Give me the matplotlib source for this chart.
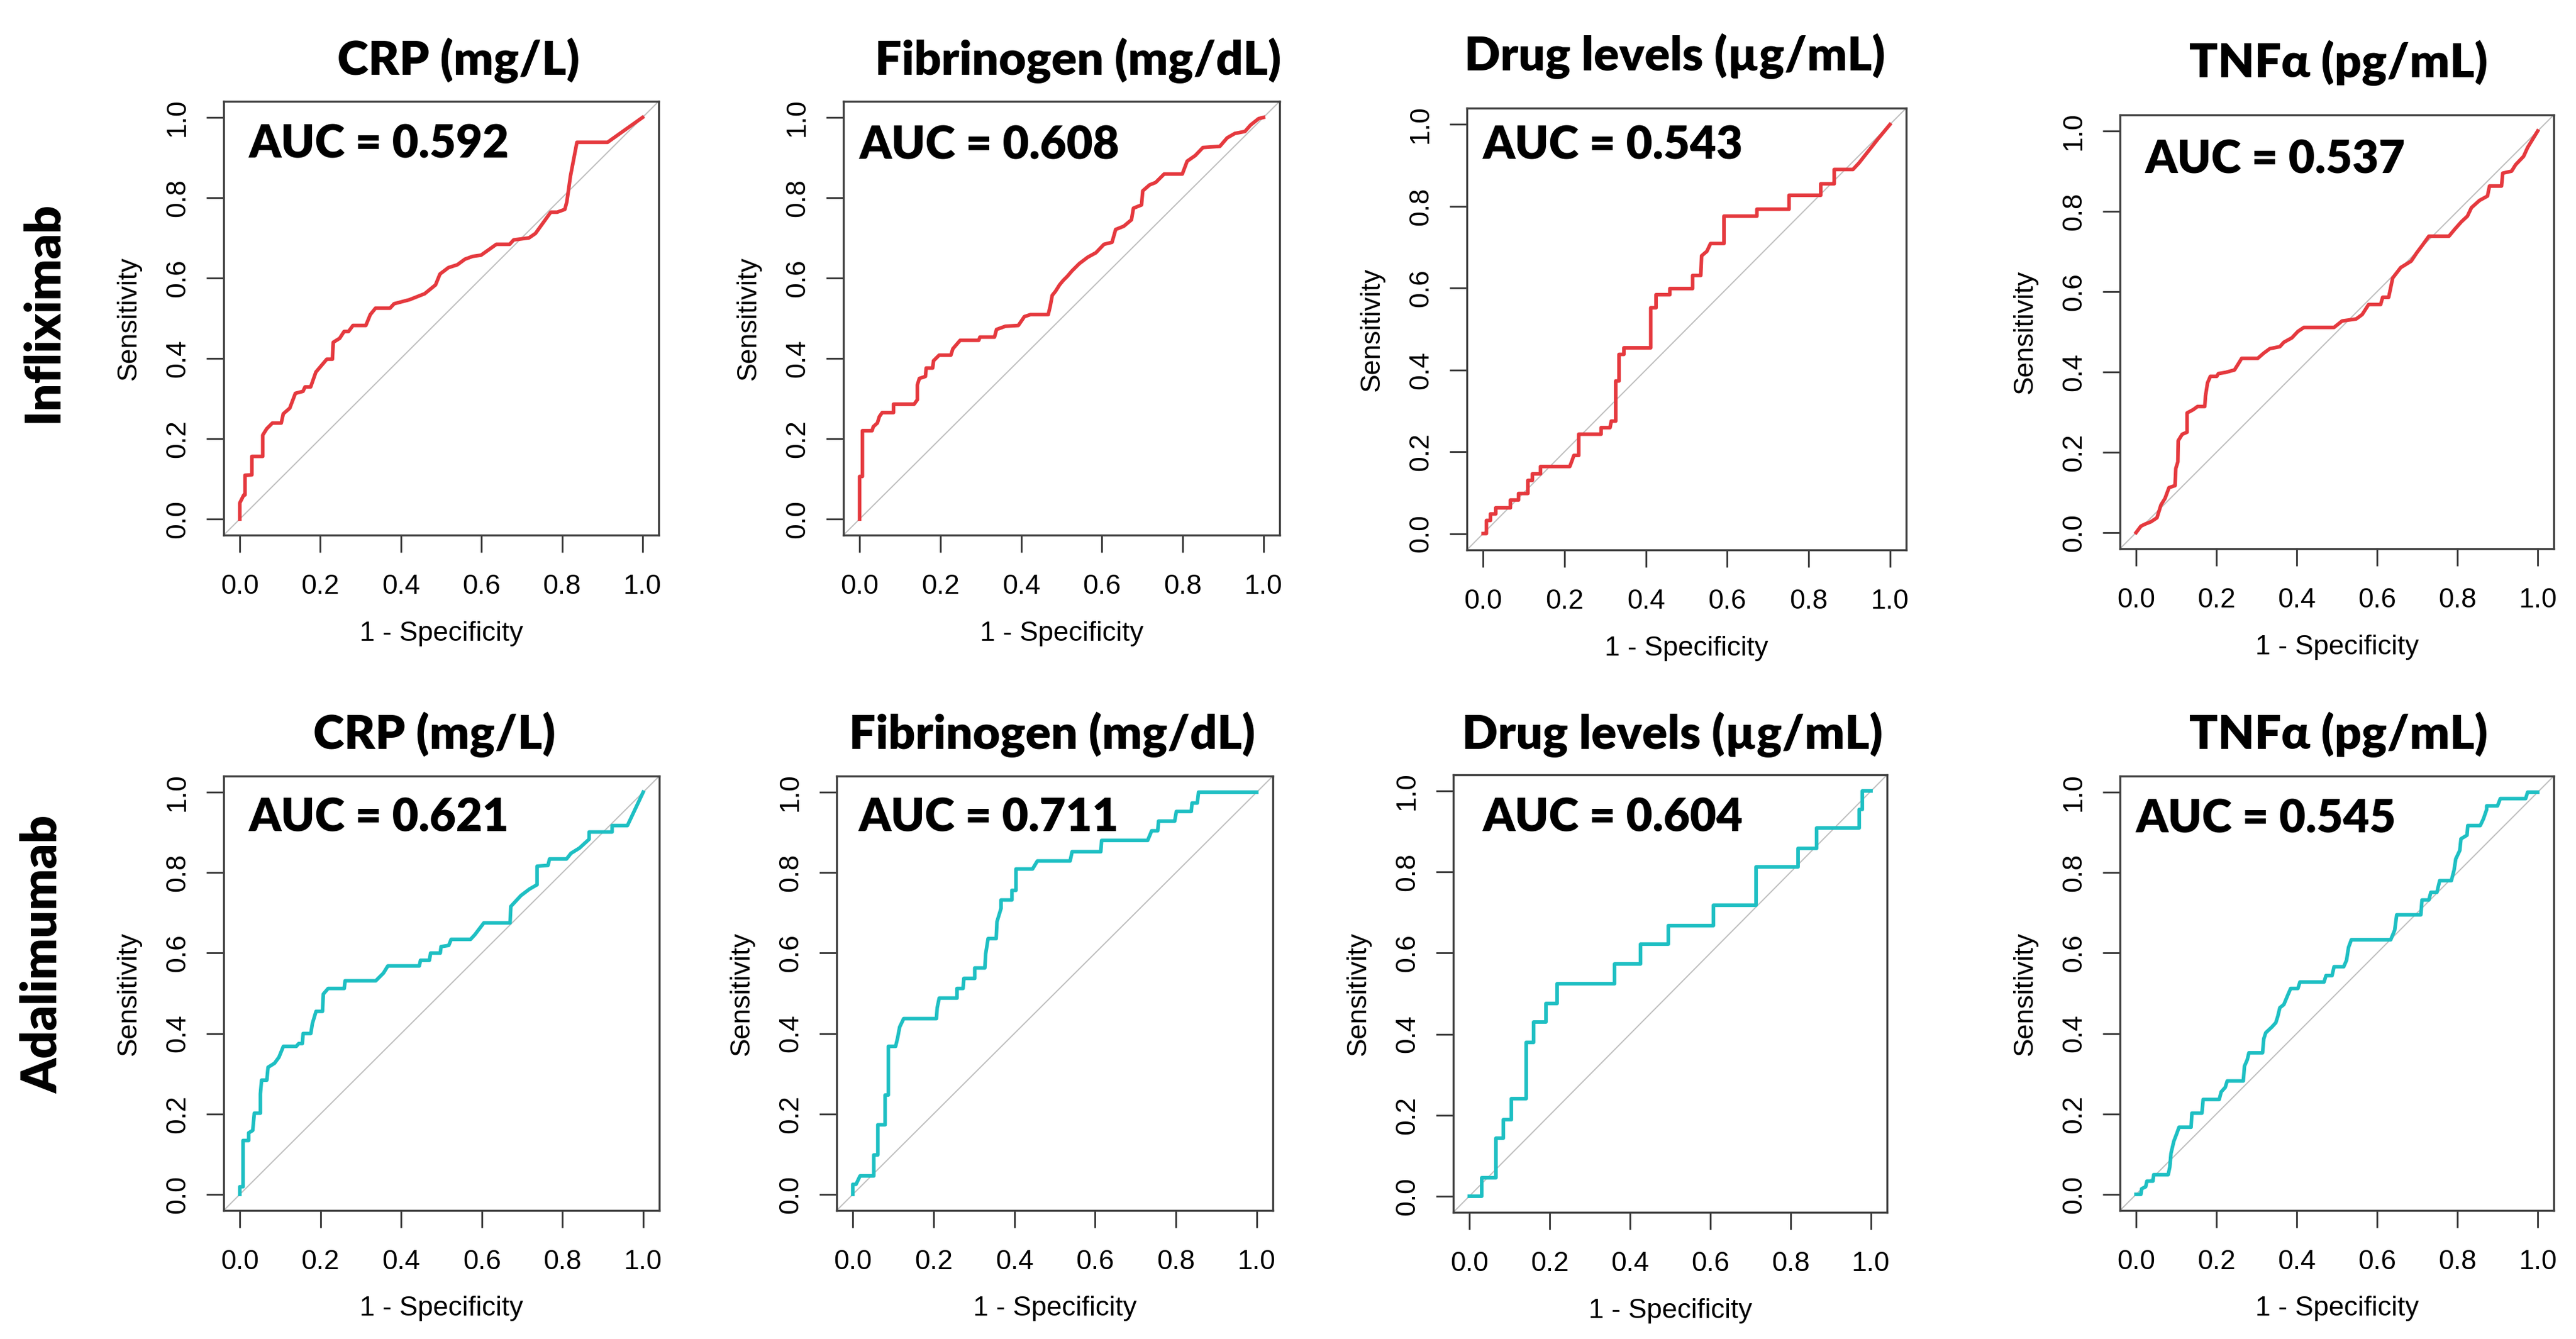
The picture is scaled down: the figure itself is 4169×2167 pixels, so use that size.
import matplotlib
matplotlib.use("Agg")
import matplotlib.pyplot as plt

# ---- data (x = 1 - specificity, y = sensitivity) ----
titles = ["CRP (mg/L)", "Fibrinogen (mg/dL)", "Drug levels (µg/mL)", "TNFα (pg/mL)"]
rows = ["Infliximab", "Adalimumab"]
auc_ifx = [0.592, 0.608, 0.543, 0.537]
auc_ada = [0.621, 0.711, 0.604, 0.545]

ifx_crp_x = [0, 0, 0.005, 0.01, 0.013, 0.013, 0.03, 0.03, 0.057, 0.057, 0.067, 0.081, 0.103, 0.108, 0.124, 0.138,
             0.157, 0.162, 0.176, 0.189, 0.216, 0.230, 0.232, 0.248, 0.259, 0.27, 0.281, 0.313, 0.324, 0.337, 0.373,
             0.383, 0.421, 0.459, 0.486, 0.497, 0.518, 0.540, 0.559, 0.578, 0.599, 0.637, 0.670, 0.680, 0.718, 0.734,
             0.772, 0.788, 0.807, 0.812, 0.821, 0.837, 0.913, 1.0]
ifx_crp_y = [0, 0.04, 0.05, 0.06, 0.06, 0.109, 0.11, 0.156, 0.156, 0.209, 0.225, 0.239, 0.239, 0.262, 0.276, 0.313,
             0.318, 0.329, 0.329, 0.366, 0.398, 0.398, 0.44, 0.45, 0.467, 0.467, 0.482, 0.482, 0.509, 0.525, 0.525,
             0.536, 0.546, 0.561, 0.583, 0.610, 0.626, 0.633, 0.647, 0.654, 0.657, 0.684, 0.684, 0.695, 0.700, 0.711,
             0.764, 0.764, 0.771, 0.79, 0.854, 0.938, 0.938, 1.0]

ifx_fib_x = [0, 0, 0.007, 0.007, 0.031, 0.034, 0.044, 0.049, 0.056, 0.084, 0.084, 0.135, 0.143, 0.143, 0.148, 0.163,
             0.165, 0.181, 0.183, 0.197, 0.226, 0.231, 0.249, 0.295, 0.298, 0.334, 0.339, 0.361, 0.393, 0.408, 0.423,
             0.467, 0.472, 0.477, 0.485, 0.495, 0.504, 0.514, 0.526, 0.544, 0.565, 0.585, 0.605, 0.625, 0.634, 0.654,
             0.673, 0.678, 0.698, 0.701, 0.718, 0.733, 0.754, 0.799, 0.811, 0.831, 0.850, 0.892, 0.910, 0.929, 0.954,
             0.968, 0.988, 1.0]
ifx_fib_y = [0, 0.106, 0.106, 0.220, 0.220, 0.230, 0.239, 0.255, 0.265, 0.265, 0.286, 0.286, 0.297, 0.334, 0.350,
             0.355, 0.376, 0.376, 0.394, 0.408, 0.408, 0.424, 0.445, 0.445, 0.453, 0.453, 0.472, 0.480, 0.482, 0.504,
             0.509, 0.509, 0.530, 0.557, 0.567, 0.583, 0.594, 0.604, 0.618, 0.636, 0.652, 0.663, 0.684, 0.689, 0.721,
             0.729, 0.745, 0.774, 0.782, 0.817, 0.832, 0.838, 0.859, 0.859, 0.891, 0.905, 0.925, 0.928, 0.949, 0.960,
             0.965, 0.981, 0.997, 1.0]

ifx_drug_x = [0, 0.008, 0.008, 0.018, 0.018, 0.031, 0.031, 0.067, 0.067, 0.087, 0.087, 0.110, 0.110, 0.121, 0.121,
              0.141, 0.141, 0.213, 0.218, 0.223, 0.235, 0.235, 0.290, 0.290, 0.312, 0.315, 0.326, 0.326, 0.334, 0.334,
              0.346, 0.346, 0.412, 0.412, 0.425, 0.425, 0.459, 0.459, 0.515, 0.515, 0.535, 0.537, 0.550, 0.559, 0.592,
              0.592, 0.673, 0.673, 0.752, 0.752, 0.830, 0.830, 0.863, 0.863, 0.909, 0.924, 0.970, 0.990, 1.0]
ifx_drug_y = [0, 0, 0.032, 0.032, 0.048, 0.048, 0.063, 0.063, 0.082, 0.082, 0.098, 0.098, 0.130, 0.130, 0.146, 0.146,
              0.164, 0.164, 0.177, 0.191, 0.191, 0.243, 0.243, 0.259, 0.259, 0.275, 0.275, 0.373, 0.373, 0.438, 0.438,
              0.454, 0.454, 0.552, 0.552, 0.584, 0.584, 0.599, 0.599, 0.631, 0.631, 0.679, 0.690, 0.709, 0.709, 0.776,
              0.776, 0.793, 0.793, 0.827, 0.827, 0.855, 0.855, 0.890, 0.890, 0.906, 0.964, 0.988, 1.0]

ifx_tnf_x = [0, 0.012, 0.022, 0.037, 0.052, 0.062, 0.072, 0.082, 0.097, 0.099, 0.104, 0.105, 0.115, 0.127, 0.127,
             0.142, 0.153, 0.171, 0.173, 0.178, 0.185, 0.201, 0.205, 0.223, 0.245, 0.255, 0.263, 0.303, 0.318, 0.333,
             0.358, 0.368, 0.388, 0.403, 0.418, 0.493, 0.513, 0.548, 0.563, 0.579, 0.609, 0.614, 0.629, 0.639, 0.659,
             0.685, 0.699, 0.714, 0.729, 0.779, 0.794, 0.810, 0.825, 0.835, 0.855, 0.875, 0.880, 0.910, 0.913, 0.935,
             0.945, 0.965, 0.975, 1.0]
ifx_tnf_y = [0, 0.016, 0.021, 0.027, 0.037, 0.069, 0.085, 0.112, 0.117, 0.160, 0.176, 0.229, 0.245, 0.250, 0.298,
             0.306, 0.314, 0.314, 0.341, 0.373, 0.389, 0.389, 0.396, 0.399, 0.405, 0.421, 0.434, 0.434, 0.447, 0.458,
             0.463, 0.474, 0.485, 0.501, 0.511, 0.511, 0.527, 0.532, 0.543, 0.568, 0.568, 0.586, 0.586, 0.634, 0.660,
             0.676, 0.697, 0.717, 0.738, 0.738, 0.756, 0.774, 0.788, 0.809, 0.827, 0.838, 0.863, 0.863, 0.895, 0.900,
             0.916, 0.937, 0.959, 1.0]

ada_crp_x = [0, 0, 0.008, 0.008, 0.022, 0.022, 0.032, 0.036, 0.051, 0.051, 0.054, 0.067, 0.070, 0.086, 0.097, 0.108,
             0.140, 0.146, 0.155, 0.157, 0.176, 0.180, 0.189, 0.205, 0.207, 0.219, 0.259, 0.261, 0.337, 0.356, 0.367,
             0.445, 0.448, 0.470, 0.473, 0.497, 0.499, 0.518, 0.524, 0.572, 0.583, 0.605, 0.670, 0.672, 0.697, 0.718,
             0.737, 0.737, 0.764, 0.768, 0.810, 0.821, 0.842, 0.866, 0.866, 0.923, 0.923, 0.961, 1.0]
ada_crp_y = [0, 0.019, 0.019, 0.134, 0.134, 0.153, 0.159, 0.202, 0.202, 0.250, 0.284, 0.284, 0.316, 0.326, 0.341,
             0.368, 0.368, 0.375, 0.375, 0.400, 0.400, 0.425, 0.455, 0.455, 0.498, 0.512, 0.512, 0.531, 0.531, 0.550,
             0.568, 0.568, 0.582, 0.582, 0.600, 0.600, 0.616, 0.619, 0.634, 0.634, 0.646, 0.675, 0.675, 0.716, 0.743,
             0.759, 0.770, 0.816, 0.818, 0.834, 0.834, 0.848, 0.861, 0.883, 0.901, 0.901, 0.917, 0.917, 1.0]

ada_fib_x = [0, 0, 0.008, 0.018, 0.052, 0.052, 0.062, 0.062, 0.080, 0.080, 0.088, 0.088, 0.106, 0.111, 0.116, 0.126,
             0.207, 0.209, 0.214, 0.258, 0.258, 0.273, 0.275, 0.302, 0.302, 0.327, 0.329, 0.335, 0.355, 0.357, 0.367,
             0.367, 0.394, 0.394, 0.404, 0.404, 0.445, 0.457, 0.538, 0.543, 0.614, 0.616, 0.730, 0.740, 0.755, 0.757,
             0.797, 0.801, 0.838, 0.840, 0.853, 0.856, 1.0]
ada_fib_y = [0, 0.025, 0.025, 0.046, 0.046, 0.098, 0.098, 0.173, 0.173, 0.247, 0.247, 0.368, 0.368, 0.389, 0.416,
             0.437, 0.437, 0.464, 0.488, 0.488, 0.512, 0.512, 0.537, 0.537, 0.563, 0.563, 0.598, 0.636, 0.636, 0.678,
             0.711, 0.732, 0.732, 0.756, 0.756, 0.809, 0.809, 0.829, 0.829, 0.852, 0.852, 0.880, 0.880, 0.904, 0.904,
             0.928, 0.928, 0.952, 0.952, 0.973, 0.973, 1.0, 1.0]

ada_drug_x = [0, 0.030, 0.030, 0.066, 0.066, 0.084, 0.084, 0.105, 0.105, 0.141, 0.141, 0.160, 0.160, 0.190, 0.190,
              0.219, 0.219, 0.362, 0.362, 0.426, 0.426, 0.496, 0.496, 0.608, 0.608, 0.714, 0.714, 0.818, 0.818, 0.865,
              0.865, 0.971, 0.971, 0.979, 0.979, 1.0]
ada_drug_y = [0, 0, 0.046, 0.046, 0.143, 0.143, 0.189, 0.189, 0.240, 0.240, 0.380, 0.380, 0.430, 0.430, 0.476, 0.476,
              0.525, 0.525, 0.573, 0.573, 0.622, 0.622, 0.668, 0.668, 0.718, 0.718, 0.813, 0.813, 0.858, 0.858, 0.909,
              0.909, 0.955, 0.955, 1.0, 1.0]

ada_tnf_x = [0, 0.012, 0.014, 0.024, 0.027, 0.042, 0.044, 0.080, 0.084, 0.087, 0.094, 0.102, 0.107, 0.137, 0.139,
             0.164, 0.167, 0.207, 0.212, 0.222, 0.227, 0.267, 0.270, 0.277, 0.281, 0.315, 0.318, 0.323, 0.338, 0.348,
             0.353, 0.358, 0.368, 0.378, 0.385, 0.403, 0.408, 0.468, 0.473, 0.488, 0.493, 0.517, 0.524, 0.529, 0.536,
             0.634, 0.644, 0.649, 0.709, 0.712, 0.729, 0.734, 0.749, 0.756, 0.785, 0.792, 0.796, 0.806, 0.809, 0.824,
             0.826, 0.857, 0.865, 0.873, 0.873, 0.900, 0.907, 0.970, 0.975, 1.0]
ada_tnf_y = [0, 0, 0.014, 0.019, 0.033, 0.033, 0.049, 0.049, 0.068, 0.102, 0.132, 0.153, 0.167, 0.167, 0.202, 0.202,
             0.236, 0.236, 0.255, 0.266, 0.282, 0.282, 0.319, 0.335, 0.352, 0.352, 0.387, 0.402, 0.416, 0.427, 0.443,
             0.464, 0.472, 0.496, 0.512, 0.512, 0.528, 0.528, 0.544, 0.544, 0.566, 0.566, 0.582, 0.614, 0.633, 0.633,
             0.657, 0.695, 0.695, 0.732, 0.732, 0.751, 0.751, 0.780, 0.780, 0.807, 0.834, 0.855, 0.884, 0.893, 0.917,
             0.917, 0.934, 0.957, 0.966, 0.966, 0.984, 0.984, 1.0, 1.0]

curves = [(ifx_crp_x, ifx_crp_y), (ifx_fib_x, ifx_fib_y), (ifx_drug_x, ifx_drug_y), (ifx_tnf_x, ifx_tnf_y),
          (ada_crp_x, ada_crp_y), (ada_fib_x, ada_fib_y), (ada_drug_x, ada_drug_y), (ada_tnf_x, ada_tnf_y)]
aucs = auc_ifx + auc_ada
colors = ["#e5393e"] * 4 + ["#1ebfc3"] * 4

# ---- layout (pixels of the 4169 x 2167 canvas) ----
W, H, DPI = 4169, 2167, 200
boxes = [(362, 164, 1066, 866), (1365, 164, 2071, 866), (2374, 175, 3085, 890), (3431, 186, 4133, 888),
         (362, 1256, 1067, 1959), (1354, 1256, 2060, 1959), (2352, 1254, 3054, 1962), (3431, 1256, 4133, 1959)]
title_pos = [(742, 121), (1745, 121), (2711, 114), (3785, 125),
             (703, 1212), (1703, 1212), (2706, 1212), (3785, 1212)]
auc_pos = [(0.023, 0.90), (0.0, 0.896), (0.0, 0.915), (0.023, 0.895),
           (0.023, 0.903), (0.015, 0.903), (0.034, 0.901), (0.0, 0.90)]
row_pos = [(69, 505), (69, 1545)]

plt.rcParams["font.family"] = ["Liberation Sans", "DejaVu Sans"]
bold_font = ["Lato", "DejaVu Sans"]

fig = plt.figure(figsize=(W / DPI, H / DPI), dpi=DPI)
ticks = [0.0, 0.2, 0.4, 0.6, 0.8, 1.0]
ticklabels = ["%.1f" % t for t in ticks]

for i in range(8):
    l, t, r, b = boxes[i]
    ax = fig.add_axes([l / W, 1 - b / H, (r - l) / W, (b - t) / H])
    ax.set_xlim(-0.04, 1.04)
    ax.set_ylim(-0.04, 1.04)
    ax.axline((0, 0), (1, 1), color="#bebebe", lw=0.7, zorder=1)
    cx, cy = curves[i]
    ax.plot(cx, cy, color=colors[i], lw=2.1, zorder=2)

    ax.set_xticks(ticks)
    ax.set_xticklabels(ticklabels)
    ax.set_yticks(ticks)
    ax.set_yticklabels(ticklabels, rotation=90, va="center", ha="right")
    ax.tick_params(axis="both", length=10, width=1, color="#333333", labelsize=16)
    ax.tick_params(axis="x", pad=12.6)
    ax.tick_params(axis="y", pad=9.4)
    for sp in ax.spines.values():
        sp.set_linewidth(1.2)
        sp.set_color("#404040")

    wpx, hpx = r - l, b - t
    ax.set_xlabel("1 - Specificity", fontsize=16, va="center")
    ax.xaxis.set_label_coords(0.5, -159 / hpx)
    ax.set_ylabel("Sensitivity", fontsize=16, va="center")
    ax.yaxis.set_label_coords(-154 / wpx, 0.5)

    ax.text(auc_pos[i][0], auc_pos[i][1], "AUC = %.3f" % aucs[i], ha="left", va="baseline",
            fontsize=26.5, fontweight="heavy", family=bold_font)

    tx, ty = title_pos[i]
    fig.text(tx / W, 1 - ty / H, titles[i % 4], ha="center", va="baseline",
             fontsize=27.5, fontweight="heavy", family=bold_font)

for name, (rx, ry) in zip(rows, row_pos):
    fig.text(rx / W, 1 - ry / H, name, ha="center", va="center", rotation=90,
             fontsize=28.5, fontweight="heavy", family=bold_font)

fig.savefig("out.png", dpi=DPI, facecolor="white")
